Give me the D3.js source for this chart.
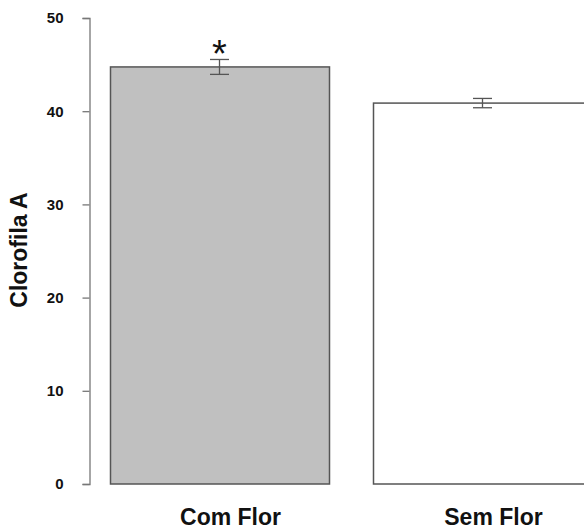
<!DOCTYPE html>
<html lang="en">
<head>
<meta charset="utf-8"/>
<title>Clorofila A</title>
<script src="https://d3js.org/d3.v7.min.js"></script>
<style>
  body { margin: 0; background: #fff; }
  text { font-family: "Liberation Sans", Arial, sans-serif; }
</style>
</head>
<body>
<script>
// data
var groups = ["Com Flor", "Sem Flor"];
var means  = [44.75, 40.87];
var errors = [0.8, 0.5];
var marks  = ["*", ""];
var yTicks = [0, 10, 20, 30, 40, 50];

var w = 584, h = 529;

var svg = d3.select("body").append("svg")
    .attr("width", w)
    .attr("height", h);

// scales
var x = d3.scaleBand()
    .domain(groups)
    .range([88, 614])
    .paddingInner(44 / 263)
    .paddingOuter(22 / 263);

var y = d3.scaleLinear()
    .domain([0, 50])
    .range([484, 18]);

// y axis
var yAxis = svg.append("g")
    .attr("transform", "translate(89.5,0)")
    .call(d3.axisLeft(y).tickValues(yTicks).tickSize(7).tickSizeOuter(7).tickPadding(19));
yAxis.select(".domain").attr("stroke", "#777").attr("stroke-width", 1.3);
yAxis.selectAll(".tick line").attr("stroke", "#777").attr("stroke-width", 1.3);
yAxis.selectAll(".tick text")
    .attr("fill", "#111")
    .style("font-size", "15px")
    .style("font-weight", "bold")
    .style("font-family", "Liberation Sans, Arial, sans-serif");

// bars
var fills = ["#c0c0c0", "#ffffff"];
svg.selectAll("rect.bar")
    .data(groups)
    .enter()
    .append("rect")
    .attr("class", "bar")
    .attr("x", function(d) { return x(d) + 0.5; })
    .attr("y", function(d, i) { return y(means[i]); })
    .attr("width", x.bandwidth())
    .attr("height", function(d, i) { return y(0) - y(means[i]); })
    .attr("fill", function(d, i) { return fills[i]; })
    .attr("stroke", "#555")
    .attr("stroke-width", 1.5);

// error bars
var cap = 9.5;
groups.forEach(function(g, i) {
    var cx = x(g) + x.bandwidth() / 2;
    var eb = svg.append("g").attr("stroke", "#555").attr("stroke-width", 1.3);
    eb.append("line")
        .attr("x1", cx).attr("x2", cx)
        .attr("y1", y(means[i] + errors[i])).attr("y2", y(means[i] - errors[i]));
    eb.append("line")
        .attr("x1", cx - cap).attr("x2", cx + cap)
        .attr("y1", y(means[i] + errors[i])).attr("y2", y(means[i] + errors[i]));
    eb.append("line")
        .attr("x1", cx - cap).attr("x2", cx + cap)
        .attr("y1", y(means[i] - errors[i])).attr("y2", y(means[i] - errors[i]));

    // significance mark
    svg.append("text")
        .attr("x", cx)
        .attr("y", y(means[i] + errors[i]) + 8)
        .attr("text-anchor", "middle")
        .style("font-size", "38px")
        .attr("fill", "#111")
        .text(marks[i]);

    // category label
    svg.append("text")
        .attr("x", cx + 11)
        .attr("y", 525)
        .attr("text-anchor", "middle")
        .style("font-size", "23px")
        .style("font-weight", "bold")
        .attr("fill", "#111")
        .text(g);
});

// y title
svg.append("text")
    .attr("transform", "translate(27,250) rotate(-90)")
    .attr("text-anchor", "middle")
    .style("font-size", "23px")
    .style("font-weight", "bold")
    .attr("fill", "#111")
    .text("Clorofila A");
</script>
</body>
</html>
